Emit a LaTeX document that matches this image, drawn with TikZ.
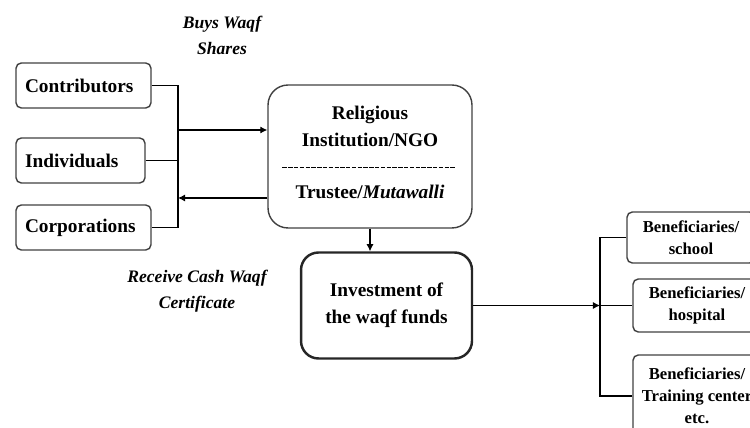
\documentclass[tikz,border=0pt]{standalone}
\usepackage{fontspec}
\setmainfont{Liberation Serif}
\usetikzlibrary{arrows.meta, positioning, calc}
\tikzset{
  src/.style    = {draw=black!75, rectangle, rounded corners=3pt, align=left,
                   font=\bfseries\fontsize{11}{14}\selectfont, inner xsep=0.18cm,
                   minimum height=0.9cm, line width=0.8pt},
  inst/.style   = {draw=black!75, rectangle, rounded corners=0.4cm,
                   minimum width=4.08cm, minimum height=2.86cm, line width=0.8pt},
  txt/.style    = {align=center, font=\bfseries\fontsize{11}{15}\selectfont},
  invest/.style = {draw=black!85, rectangle, rounded corners=0.35cm, align=center,
                   font=\bfseries\fontsize{11}{15.3}\selectfont,
                   minimum width=3.42cm, minimum height=2.12cm, line width=1.4pt},
  benef/.style  = {draw=black!75, rectangle, rounded corners=3pt, align=center,
                   font=\bfseries\fontsize{9.5}{12.6}\selectfont,
                   minimum width=2.56cm, line width=0.8pt},
  lbl/.style    = {align=center, font=\bfseries\itshape\fontsize{10}{14.7}\selectfont},
  arr/.style    = {-{Latex[length=4pt, width=4pt]}, line width=0.6pt},
  wire/.style   = {line width=0.6pt}
}

\begin{document}
\begin{tikzpicture}[x=0.02cm, y=-0.02cm]
  \useasboundingbox (0,0) rectangle (750,428);
  \clip (0,0) rectangle (750,428);

  % ── Contributors (left column) ─────────────────────────────────────────
  \node[src, minimum width=2.7cm, text width=2.34cm]  (Contrib) at (83.5,85.5)  {Contributors};
  \node[src, minimum width=2.58cm, text width=2.22cm] (Indiv)   at (80.5,160.5) {Individuals};
  \node[src, minimum width=2.7cm, text width=2.34cm]  (Corp)    at (83.5,227.5) {Corporations};

  % ── Trustee ───────────────────────────────────────────────────────────
  \node[inst] (Relig) at (370,156.5) {};
  \node[txt] (ReligName) at (370,126.5) {Religious\\Institution/NGO};
  \node[txt] (Trustee)   at (370,192)   {Trustee/\textit{Mutawalli}};
  \draw[line width=0.5pt, dash pattern=on 2.5pt off 0.8pt]
    ($(Relig.west)+(15,10.5)$) -- ($(Relig.east)+(-17,10.5)$);

  % ── Investment ────────────────────────────────────────────────────────
  \node[invest] (Invest) at (386.5,305.5) {Investment of\\the waqf funds};

  % ── Beneficiaries (cut at the right edge) ─────────────────────────────
  \node[benef, minimum height=1.02cm] (School)   at (691,237.5) {Beneficiaries/\\school};
  \node[benef, minimum height=1.06cm] (Hospital) at (697,305.5) {Beneficiaries/\\hospital};
  \node[benef, minimum height=1.64cm] (Training) at (697,396)   {Beneficiaries/\\Training center\\etc.};

  % ── Labels ────────────────────────────────────────────────────────────
  \node[lbl] (BuyLbl)  at (222,35)  {Buys Waqf\\Shares};
  \node[lbl] (RecvLbl) at (197,291) {Receive Cash Waqf\\Certificate};

  % ── Contributor bus ───────────────────────────────────────────────────
  \coordinate (Buy)  at (178,130);
  \coordinate (Recv) at (178,198);
  \draw[wire] (Contrib.east) -- (Contrib.east -| Buy) -- (Corp.east -| Buy) -- (Corp.east);
  \draw[wire] (Indiv.east) -- (Indiv.east -| Buy);
  \draw[arr] (Buy) -- (Buy -| Relig.west);
  \draw[arr] (Recv -| Relig.west) -- (Recv);

  % ── Trustee to investment ─────────────────────────────────────────────
  \draw[arr] (Relig.south) -- (Relig.south |- Invest.north);

  % ── Beneficiary bus ───────────────────────────────────────────────────
  \coordinate (BenBus) at (Invest.east -| 600,0);
  \draw[arr] (Invest.east) -- (BenBus);
  \draw[wire] (BenBus) -- (Hospital.west);
  \draw[wire] (School.west) -| (BenBus) |- (Training.west);

\end{tikzpicture}
\end{document}
